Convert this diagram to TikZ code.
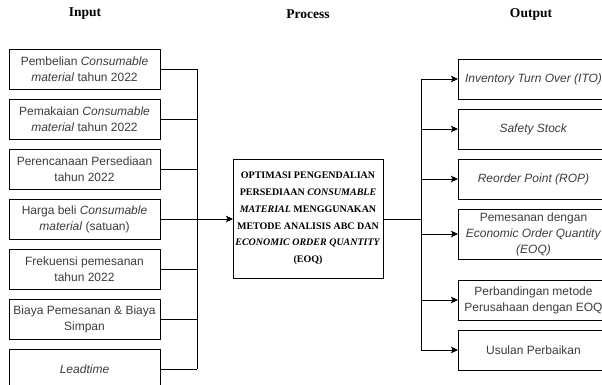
\documentclass[tikz,border=0pt]{standalone}
\usepackage{fontspec}
\setmainfont{Liberation Sans}
\newfontfamily\serifbox{Liberation Serif}
\usepackage{tikz}
\usetikzlibrary{arrows.meta, positioning, calc}
\definecolor{boxtext}{RGB}{60,60,60}

\begin{document}
\begin{tikzpicture}[
    x=1pt, y=-1pt,
    node distance=10pt,
    every node/.style={inner sep=0pt, outer sep=0pt},
    head/.style={font=\serifbox\bfseries\fontsize{13.5}{15}\selectfont},
    box/.style={
      rectangle, draw, line width=0.9pt,
      minimum width=151pt, minimum height=40pt,
      align=center, text=boxtext,
      font=\fontsize{12}{16}\selectfont
    },
    process/.style={
      rectangle, draw, line width=0.9pt,
      minimum width=150pt, minimum height=119pt,
      align=center, font=\serifbox\bfseries\fontsize{10}{16.7}\selectfont
    },
    line/.style={line width=0.9pt},
    arrow/.style={line, -{Stealth[length=7pt, width=6.5pt, inset=1.5pt]}}
  ]
    \useasboundingbox (0,0) rectangle (602,385);

    % headers
    \node[head] (hin) at (85,14) {Input};
    \node[head] (hproc) at (308,14) {Process};
    \node[head] (hout) at (531,14) {Output};

    % input
    \node[box, anchor=north west] (in1) at (9,49)
      {Pembelian \textit{Consumable}\\\textit{material} tahun 2022};
    \node[box, below=of in1] (in2)
      {Pemakaian \textit{Consumable}\\\textit{material} tahun 2022};
    \node[box, below=of in2] (in3) {Perencanaan Persediaan\\tahun 2022};
    \node[box, below=of in3] (in4)
      {Harga beli \textit{Consumable}\\\textit{material} (satuan)};
    \node[box, below=of in4] (in5) {Frekuensi pemesanan\\tahun 2022};
    \node[box, below=of in5] (in6) {Biaya Pemesanan \& Biaya\\Simpan};
    \node[box, below=of in6] (in7) {\textit{Leadtime}};

    % process
    \node[process, anchor=north west] (central) at (233,159)
      {OPTIMASI PENGENDALIAN\\PERSEDIAAN \textit{CONSUMABLE}\\
       \textit{MATERIAL} MENGGUNAKAN\\METODE ANALISIS ABC DAN\\
       \textit{ECONOMIC ORDER QUANTITY}\\(EOQ)};

    % output
    \node[box, anchor=north west] (out1) at (458,59)
      {\textit{Inventory Turn Over (ITO)}};
    \node[box, below=of out1] (out2) {\textit{Safety Stock}};
    \node[box, below=of out2] (out3) {\textit{Reorder Point (ROP)}};
    \node[box, below=of out3, minimum height=50pt] (out4)
      {Pemesanan dengan\\\textit{Economic Order Quantity}\\\textit{(EOQ)}};
    \node[box, below=21pt of out4] (out5)
      {Perbandingan metode\\Perusahaan dengan EOQ};
    \node[box, below=of out5] (out6) {Usulan Perbaikan};

    \coordinate (inbus) at (197,219);
    \coordinate (outbus) at (421,219);

    \foreach \n in {1,...,7}
      \draw[line] (in\n.east) -- (in\n.east -| inbus);
    \draw[line] (in1.east -| inbus) -- (in7.east -| inbus);
    \draw[arrow] (inbus) -- (central.west |- inbus);

    \draw[line] (central.east |- outbus) -- (outbus);
    \draw[line] (out1.west -| outbus) -- (out6.west -| outbus);
    \foreach \n in {1,...,6}
      \draw[arrow] (out\n.west -| outbus) -- (out\n.west);
  \end{tikzpicture}
\end{document}
